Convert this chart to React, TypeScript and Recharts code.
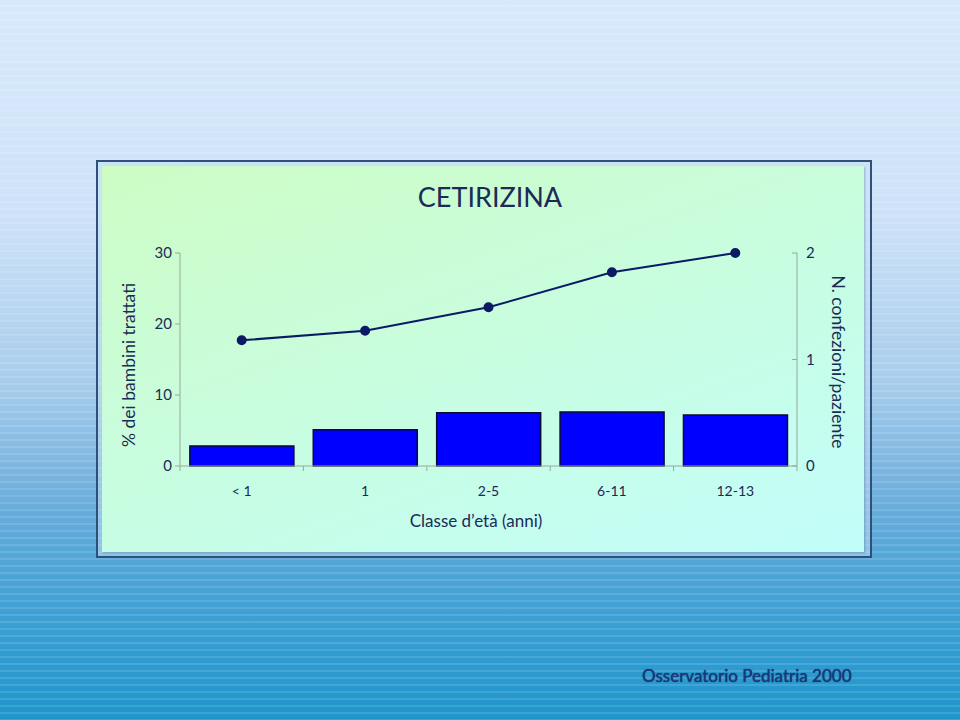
import React from "react";
import { Bar, ComposedChart, Line, XAxis, YAxis } from "recharts";

const categories = ["< 1", "1", "2-5", "6-11", "12-13"];
const pctTreated = [2.8, 5.1, 7.5, 7.6, 7.2];
const packsPerPatient = [1.18, 1.27, 1.49, 1.82, 2.0];
const leftTicks = [0, 10, 20, 30];
const rightTicks = [0, 1, 2];

const W = 960;
const H = 720;
const PLOT_L = 180;
const PLOT_R = 797;
const PLOT_T = 253;
const PLOT_B = 466;
const BAND = (PLOT_R - PLOT_L) / categories.length;

const FONT = "Lato, 'Open Sans', sans-serif";
const INK = "#1b2a56";
const AXIS = "#9aa79c";

const data = categories.map((name, i) => ({
  name,
  pct: pctTreated[i],
  packs: packsPerPatient[i],
}));

function XTick(props: any) {
  const { x, y, payload, index } = props;
  return (
    <g>
      <line x1={x - BAND / 2} y1={y} x2={x - BAND / 2} y2={y + 5} stroke={AXIS} />
      {index === categories.length - 1 && (
        <line x1={x + BAND / 2} y1={y} x2={x + BAND / 2} y2={y + 5} stroke={AXIS} />
      )}
      <text x={x} y={y + 30} textAnchor="middle" fontSize={14} fill={INK} fontFamily={FONT}>
        {payload.value}
      </text>
    </g>
  );
}

function RightTick(props: any) {
  const { x, y, payload } = props;
  return (
    <g>
      <line x1={x - 5} y1={y} x2={x} y2={y} stroke={AXIS} />
      <text x={x + 9} y={y + 5} textAnchor="start" fontSize={15} fill={INK} fontFamily={FONT}>
        {payload.value}
      </text>
    </g>
  );
}

export default function App() {
  return (
    <div
      style={{
        position: "absolute",
        left: 0,
        top: 0,
        width: W,
        height: H,
        overflow: "hidden",
        fontFamily: FONT,
        background:
          "linear-gradient(180deg, #d8e9fc 0%, #cde2f8 30%, #a8cdec 53%, #6aaddb 70%, #3ea0d4 85%, #1e96cc 100%)",
      }}
    >
      <div
        style={{
          position: "absolute",
          inset: 0,
          background:
            "repeating-linear-gradient(180deg, rgba(255,255,255,0) 0px, rgba(255,255,255,0) 5px, rgba(255,255,255,0.12) 5px, rgba(255,255,255,0.12) 7px)",
        }}
      />
      {/* frame */}
      <div
        style={{
          position: "absolute",
          left: 96,
          top: 160,
          width: 772,
          height: 394,
          border: "2px solid #2f5078",
          background: "rgba(200,225,245,0.5)",
        }}
      />
      <div
        style={{
          position: "absolute",
          left: 102,
          top: 166,
          width: 762,
          height: 386,
          background: "linear-gradient(160deg, #cdfcc4 0%, #c8fde0 50%, #c3fdfb 100%)",
          boxShadow: "1px 1px 2px rgba(40,80,120,0.35)",
        }}
      />
      <div
        style={{
          position: "absolute",
          left: 490,
          top: 196,
          transform: "translate(-50%, -50%)",
          whiteSpace: "nowrap",
          fontSize: 27,
          color: INK,
        }}
      >
        CETIRIZINA
      </div>
      <div style={{ position: "absolute", left: 0, top: 0 }}>
        <ComposedChart
          width={W}
          height={H}
          data={data}
          margin={{ left: PLOT_L - 60, right: W - PLOT_R - 60, top: PLOT_T, bottom: H - PLOT_B - 30 }}
          barCategoryGap="8%"
        >
          <XAxis
            dataKey="name"
            height={30}
            stroke={AXIS}
            tickLine={false}
            tickSize={0}
            tickMargin={0}
            tick={<XTick />}
            interval={0}
          />
          <YAxis
            yAxisId="left"
            orientation="left"
            width={60}
            domain={[0, 30]}
            ticks={leftTicks}
            stroke={AXIS}
            tickSize={5}
            tickMargin={3}
            tick={{ fill: INK, fontSize: 15, fontFamily: FONT }}
          />
          <YAxis
            yAxisId="right"
            orientation="right"
            width={60}
            domain={[0, 2]}
            ticks={rightTicks}
            stroke={AXIS}
            tickLine={false}
            tickSize={0}
            tickMargin={0}
            tick={<RightTick />}
          />
          <Bar
            yAxisId="left"
            dataKey="pct"
            fill="#0000ff"
            stroke="#0a0a30"
            strokeWidth={1.5}
            isAnimationActive={false}
          />
          <Line
            yAxisId="right"
            dataKey="packs"
            stroke="#0c1a66"
            strokeWidth={2}
            dot={{ r: 4, fill: "#0c1a66", stroke: "#0c1a66" }}
            activeDot={false}
            isAnimationActive={false}
          />
        </ComposedChart>
      </div>
      <div
        style={{
          position: "absolute",
          left: 128,
          top: 365,
          transform: "translate(-50%, -50%) rotate(-90deg)",
          whiteSpace: "nowrap",
          fontSize: 17.5,
          color: INK,
        }}
      >
        % dei bambini trattati
      </div>
      <div
        style={{
          position: "absolute",
          left: 838,
          top: 362,
          transform: "translate(-50%, -50%) rotate(90deg)",
          whiteSpace: "nowrap",
          fontSize: 17.5,
          color: INK,
        }}
      >
        N. confezioni/paziente
      </div>
      <div
        style={{
          position: "absolute",
          left: 476,
          top: 520,
          transform: "translate(-50%, -50%)",
          whiteSpace: "nowrap",
          fontSize: 17,
          color: INK,
        }}
      >
        Classe d’età (anni)
      </div>
      <div
        style={{
          position: "absolute",
          left: 642,
          top: 665,
          whiteSpace: "nowrap",
          fontSize: 17,
          color: "#1a3878",
          textShadow: "0 0 1px #0f2a60",
        }}
      >
        Osservatorio Pediatria 2000
      </div>
    </div>
  );
}
